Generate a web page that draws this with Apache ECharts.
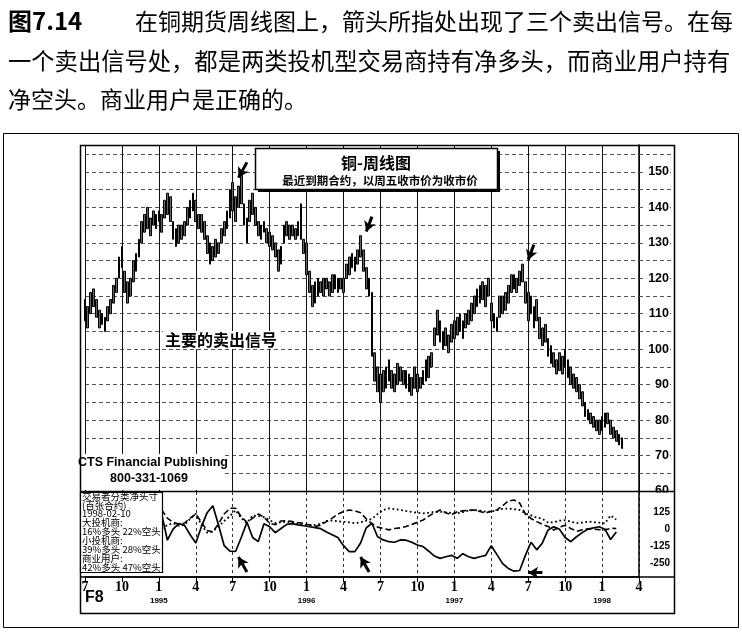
<!DOCTYPE html>
<html><head><meta charset="utf-8">
<script src="https://cdn.jsdelivr.net/npm/echarts@6/dist/echarts.min.js"></script>
<style>html,body{margin:0;padding:0;background:#fff}#c{width:742px;height:642px}</style>
</head><body><div id="c"></div>
<script>
// ---------- data ----------
const weekCount = 196; // weekly categories, Jul 1994 .. Apr 1998
const quarterLabels = ['7','10','1','4','7','10','1','4','7','10','1','4','7','10','1','4'];
const yearLabels = ['','','1995','','','','1996','','','','1997','','','','1998',''];

const weekHigh = [
114,112,116,117,114,111,110,109,112,114,
118,120,126,129,122,119,120,125,127,131,
136,138,140,137,139,138,139,138,142,144,
143,136,134,135,135,136,140,142,144,142,
138,138,136,132,130,129,131,130,134,136,
139,145,147,143,146,149,141,137,142,144,
140,136,135,136,134,133,132,130,128,129,
135,136,135,135,134,136,141,131,130,122,
118,119,120,119,120,120,119,121,121,120,
120,120,124,126,127,126,128,132,128,123,
120,116,99,95,93,94,95,97,94,93,
96,95,94,94,93,92,95,93,92,94,
97,98,99,106,111,108,105,106,104,107,
108,109,110,108,110,111,113,115,117,118,
119,118,120,113,110,109,115,115,116,118,
121,121,120,122,124,119,116,115,112,114,
109,106,107,103,101,99,97,99,98,100,
97,95,93,92,90,88,85,83,82,81,
80,80,81,82,82,80,78,77,76,75];
const weekLow = [
108,106,110,112,109,106,107,105,108,110,
113,116,120,123,116,113,115,119,122,126,
130,133,134,132,135,134,136,133,137,138,
136,131,129,130,131,132,135,137,139,136,
134,133,131,127,124,125,126,127,130,132,
134,137,139,136,140,141,135,130,136,138,
135,132,131,133,130,129,128,126,122,124,
130,132,131,132,131,132,131,127,121,116,
112,113,115,116,115,117,115,116,117,116,
117,116,120,121,123,122,124,126,122,117,
115,98,91,88,85,88,89,91,89,88,
90,91,90,89,88,87,89,88,89,90,
91,92,95,101,104,102,100,101,99,102,
103,104,105,103,106,107,108,110,112,113,
114,112,115,108,106,105,109,110,111,113,
116,117,116,118,119,113,108,110,106,108,
103,101,102,98,96,95,93,94,93,95,
92,90,89,88,86,84,81,80,79,78,
77,76,77,78,79,76,75,74,73,72];

// COT net positions (hundreds of contracts), every 2 weeks from week 27
const cotFirstWeek = 27;
const commercials = [110,-80,0,40,30,-40,-100,20,120,170,
30,-120,-160,-162,-60,50,-60,-90,40,18,
-25,5,35,40,32,25,18,12,4,-20,
-40,-60,-120,-163,-163,-100,10,43,-55,-78,
-91,-95,-78,-80,-95,-115,-127,-160,-195,-212,
-200,-190,-212,-178,-200,-212,-200,-190,-120,-185,
-250,-285,-305,-300,-190,-95,-150,-100,-5,18,
0,-60,-91,-55,-25,0,10,18,0,-75,
-20];
const largeSpecs = [140,80,50,38,45,80,110,50,-10,-20,
40,110,152,152,90,50,80,110,88,43,
33,60,62,55,48,42,30,20,30,55,
80,110,128,140,133,120,75,40,15,5,
-5,5,10,20,35,50,67,95,120,140,
120,105,127,133,138,140,128,118,130,140,
170,205,212,190,110,78,55,35,20,-6,
15,28,5,-15,-5,3,0,-3,-5,6,
5];
const smallSpecs = [6,30,43,25,30,75,112,30,-25,-15,
20,60,95,138,80,45,100,95,88,65,
45,50,55,48,38,32,31,31,40,60,
63,58,54,50,44,50,62,75,110,140,
152,146,140,132,125,120,115,120,126,127,
122,118,115,124,135,140,135,128,127,138,
148,150,145,140,115,100,85,75,48,50,
62,65,55,44,48,55,52,47,42,100,
70];

const priceTicks = [150,140,130,120,110,100,90,80,70,60];
const cotTicks = [125,0,-125,-250];
const legendLines = ['交易者分类净头寸','(百张合约)','1998-02-10','大投机商:','16%多头 22%空头','小投机商:','39%多头 28%空头','商业用户:','42%多头 47%空头'];

// ---------- build ----------
const weeks = Array.from({length: weekCount}, (_, i) => String(i));
const candles = weekLow.map((l, i) => [l, weekHigh[i], l, weekHigh[i]]);
function cotSeries(vals) {
  const arr = new Array(weekCount).fill(null);
  vals.forEach((v, k) => { arr[cotFirstWeek + 2 * k] = v; });
  return arr;
}
const isQuarter = (idx) => idx % 13 === 0;

const chart = echarts.init(document.getElementById('c'), null, {renderer: 'canvas'});
const cjk = '"Noto Sans CJK SC", sans-serif';
const lat = '"Liberation Sans", Arial, sans-serif';

function arrow(a, b) { return [{coord: a}, {coord: b}]; }
const arrowStyle = {
  silent: true, symbol: ['none', 'arrow'], symbolSize: [9, 10], animation: false,
  label: {show: false}, lineStyle: {color: '#000', width: 3, type: 'solid'}
};

const legendText = legendLines.map((t, i) => ({
  type: 'text', z: 120,
  style: {text: t, x: 82, y: 496 + i * 8.9, fill: '#000', fontSize: 9.5, fontFamily: cjk,
          textAlign: 'left', textVerticalAlign: 'middle'}
}));

const option = {
  backgroundColor: '#fff',
  animation: false,
  grid: [
    {left: 85, top: 145, width: 554, height: 346},
    {left: 85, top: 492, width: 554, height: 85}
  ],
  xAxis: [
    {type: 'category', gridIndex: 0, data: weeks, boundaryGap: false,
     axisLine: {show: false, onZero: false}, axisTick: {show: false}, axisLabel: {show: false},
     splitLine: {show: true, interval: isQuarter, lineStyle: {color: '#111', width: 1}}},
    {type: 'category', gridIndex: 1, data: weeks, boundaryGap: false, position: 'bottom',
     axisLine: {show: true, onZero: false, lineStyle: {color: '#000', width: 1.5}},
     axisTick: {show: true, interval: isQuarter, length: 5, lineStyle: {color: '#000'}},
     axisLabel: {show: true, interval: isQuarter, margin: 3, verticalAlign: 'top',
       formatter: (v, idx) => {
         const q = Math.round(idx / 13);
         const y = yearLabels[q];
         return '{m|' + quarterLabels[q] + '}' + (y ? '\n{y|' + y + '}' : '');
       },
       rich: {
         m: {fontFamily: '"Liberation Serif", serif', fontSize: 14, fontWeight: 'bold', color: '#000', lineHeight: 14},
         y: {fontFamily: lat, fontSize: 8, fontWeight: 'bold', color: '#000', lineHeight: 13}
       }},
     splitLine: {show: true, interval: isQuarter, lineStyle: {color: '#333', width: 1, type: [3, 3]}}}
  ],
  yAxis: [
    {type: 'value', gridIndex: 0, position: 'right', min: 60, max: 157.6, interval: 5,
     axisLine: {show: true, lineStyle: {color: '#000', width: 1.5}},
     axisTick: {show: true, length: 34, lineStyle: {color: '#555', type: [4, 3]}},
     axisLabel: {show: true, align: 'right', margin: 31,
       formatter: (v) => priceTicks.indexOf(v) >= 0 ? String(v) : '',
       fontFamily: lat, fontSize: 12.5, fontWeight: 'bold', color: '#000',
       backgroundColor: '#fff', padding: [0, 1, 0, 3]},
     splitLine: {show: true, lineStyle: {color: '#555', width: 1, type: [4, 3]}}},
    {type: 'value', gridIndex: 1, position: 'right', min: -347.4, max: 270.3,
     axisLine: {show: true, lineStyle: {color: '#000', width: 1.5}},
     axisTick: {show: false},
     axisLabel: {show: true, customValues: cotTicks, align: 'right', margin: 31,
       fontFamily: lat, fontSize: 10, fontWeight: 'bold', color: '#000'},
     splitLine: {show: false}}
  ],
  series: [
    {type: 'candlestick', xAxisIndex: 0, yAxisIndex: 0, data: candles, barWidth: 2.2,
     itemStyle: {color: '#666', color0: '#666', borderColor: '#000', borderColor0: '#000', borderWidth: 1},
     markLine: Object.assign({}, arrowStyle, {data: [
       arrow([56.9, 152.7], [54.1, 148.4]),
       arrow([101.4, 137.4], [98.6, 133.2]),
       arrow([158, 129.5], [155.5, 125.2])
     ]})},
    {type: 'line', name: '商业用户', xAxisIndex: 1, yAxisIndex: 1, data: cotSeries(commercials),
     connectNulls: true, showSymbol: false, symbol: 'none',
     lineStyle: {color: '#000', width: 1.7, type: 'solid'},
     markLine: Object.assign({}, arrowStyle, {data: [
       arrow([57.2, -311], [53.7, -202]),
       arrow([99.6, -311], [96.8, -202]),
       arrow([161, -316], [155.8, -316])
     ]})},
    {type: 'line', name: '大投机商', xAxisIndex: 1, yAxisIndex: 1, data: cotSeries(largeSpecs),
     connectNulls: true, showSymbol: false, symbol: 'none',
     lineStyle: {color: '#000', width: 1.6, type: [6, 3]}},
    {type: 'line', name: '小投机商', xAxisIndex: 1, yAxisIndex: 1, data: cotSeries(smallSpecs),
     connectNulls: true, showSymbol: false, symbol: 'none',
     lineStyle: {color: '#000', width: 1.8, type: [1.8, 2.6]}}
  ],
  graphic: [
    // header text
    {type: 'text', z: 100, style: {text: '图7.14', x: 8, y: 21, fill: '#000', fontSize: 24, fontWeight: 'bold', fontFamily: cjk, textVerticalAlign: 'middle'}},
    {type: 'text', z: 100, style: {text: '在铜期货周线图上，箭头所指处出现了三个卖出信号。在每', x: 135, y: 21, fill: '#000', fontSize: 23, fontFamily: cjk, textVerticalAlign: 'middle'}},
    {type: 'text', z: 100, style: {text: '一个卖出信号处，都是两类投机型交易商持有净多头，而商业用户持有', x: 8, y: 61, fill: '#000', fontSize: 23.3, fontFamily: cjk, textVerticalAlign: 'middle'}},
    {type: 'text', z: 100, style: {text: '净空头。商业用户是正确的。', x: 8, y: 99, fill: '#000', fontSize: 23, fontFamily: cjk, textVerticalAlign: 'middle'}},
    // frames
    {type: 'rect', z: 90, shape: {x: 3.5, y: 133.5, width: 735, height: 494}, style: {fill: null, stroke: '#000', lineWidth: 1}},
    {type: 'rect', z: 90, shape: {x: 80.5, y: 145.5, width: 594, height: 468}, style: {fill: null, stroke: '#000', lineWidth: 1.5}},
    {type: 'line', z: 90, shape: {x1: 80, y1: 491.5, x2: 675, y2: 491.5}, style: {stroke: '#000', lineWidth: 1.5}},
    {type: 'line', z: 90, shape: {x1: 80, y1: 577, x2: 675, y2: 577}, style: {stroke: '#000', lineWidth: 1.5}},
    // cover lower half of the "60" label
    {type: 'rect', z: 80, shape: {x: 641, y: 492.5, width: 33, height: 8}, style: {fill: '#fff'}},
    // chart title box
    {type: 'rect', z: 60, shape: {x: 258, y: 151, width: 242, height: 41}, style: {fill: '#000'}},
    {type: 'rect', z: 61, shape: {x: 255.5, y: 148.5, width: 242, height: 41}, style: {fill: '#fff', stroke: '#000', lineWidth: 1.5}},
    {type: 'text', z: 62, style: {text: '铜-周线图', x: 376, y: 163, fill: '#000', fontSize: 16, fontWeight: 'bold', fontFamily: cjk, textAlign: 'center', textVerticalAlign: 'middle'}},
    {type: 'text', z: 62, style: {text: '最近到期合约，以周五收市价为收市价', x: 380, y: 181, fill: '#000', fontSize: 11.5, fontWeight: 'bold', fontFamily: cjk, textAlign: 'center', textVerticalAlign: 'middle'}},
    // main signal label
    {type: 'text', z: 62, style: {text: '主要的卖出信号', x: 163, y: 340, fill: '#000', fontSize: 16, fontWeight: 'bold', fontFamily: cjk, textVerticalAlign: 'middle', backgroundColor: '#fff', padding: [1, 2]}},
    // publisher box
    {type: 'rect', z: 62, shape: {x: 82, y: 454, width: 143, height: 36}, style: {fill: '#fff'}},
    {type: 'text', z: 63, style: {text: 'CTS Financial Publishing', x: 153, y: 463, fill: '#000', fontSize: 12.5, fontWeight: 'bold', fontFamily: lat, textAlign: 'center', textVerticalAlign: 'middle'}},
    {type: 'text', z: 63, style: {text: '800-331-1069', x: 149, y: 479, fill: '#000', fontSize: 12.5, fontWeight: 'bold', fontFamily: lat, textAlign: 'center', textVerticalAlign: 'middle'}},
    // COT legend box
    {type: 'rect', z: 110, shape: {x: 80.5, y: 492.5, width: 82, height: 80}, style: {fill: '#fff', stroke: '#000', lineWidth: 1.2}},
    ...legendText,
    {type: 'text', z: 100, style: {text: 'F8', x: 85, y: 598, fill: '#000', fontSize: 16, fontWeight: 'bold', fontFamily: lat, textVerticalAlign: 'middle'}}
  ]
};
chart.setOption(option);
</script>
</body></html>
